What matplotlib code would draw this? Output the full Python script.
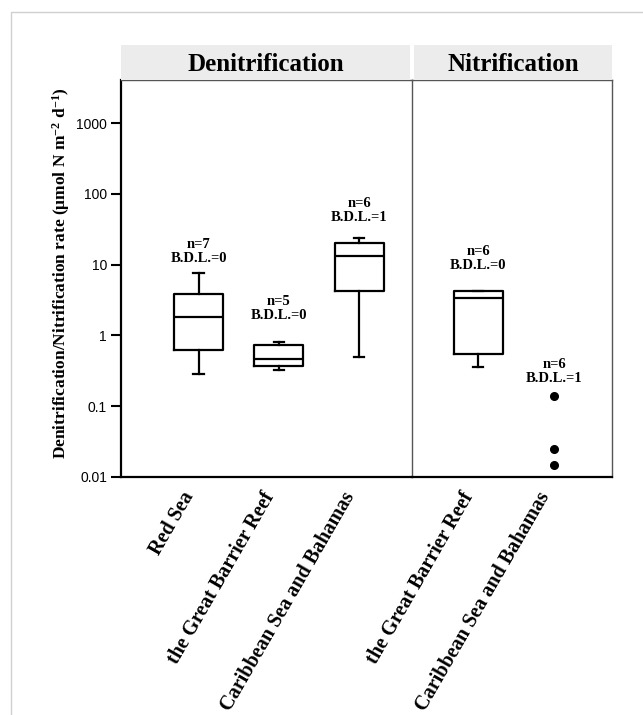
import matplotlib
matplotlib.use("Agg")
import matplotlib.pyplot as plt
from matplotlib.lines import Line2D

plt.rcParams['font.family'] = ['Liberation Serif', 'DejaVu Serif']
plt.rcParams['mathtext.fontset'] = 'custom'
plt.rcParams['mathtext.rm'] = 'Liberation Serif:bold'
plt.rcParams['mathtext.it'] = 'Liberation Serif:bold'
plt.rcParams['mathtext.bf'] = 'Liberation Serif:bold'

# denitrification boxes (umol N m-2 d-1)
denit_sites = ["Red Sea", "the Great Barrier Reef", "Caribbean Sea and Bahamas"]
denit_lo = [0.285, 0.325, 0.495]
denit_q1 = [0.62, 0.37, 4.24]
denit_med = [1.82, 0.46, 13.2]
denit_q3 = [3.85, 0.73, 20.2]
denit_hi = [7.6, 0.81, 23.8]
denit_n = [7, 5, 6]
denit_bdl = [0, 0, 1]

# nitrification: one box, one set of single points
nit_sites = ["the Great Barrier Reef", "Caribbean Sea and Bahamas"]
nit_lo = [0.358]
nit_q1 = [0.545]
nit_med = [3.37]
nit_q3 = [4.24]
nit_hi = [4.24]
nit_points = [0.139, 0.0248, 0.0148]
nit_n = [6, 6]
nit_bdl = [0, 1]

yticks = [0.01, 0.1, 1, 10, 100, 1000]
yticklabels = ["0.01", "0.1", "1", "10", "100", "1000"]

# label gaps above the top of each group (points)
denit_gap = [6, 14, 10]
nit_gap = [14, 8]

fig = plt.figure(figsize=(6.43, 7.15), dpi=100)

W, H = 643, 715
def fx(px):
    return px / W
def fy(py):
    return 1 - py / H

ax1 = fig.add_axes([fx(121), fy(477), fx(412) - fx(121), fy(80) - fy(477)])
ax2 = fig.add_axes([fx(412), fy(477), fx(612) - fx(412), fy(80) - fy(477)], sharey=ax1)
ax2.patch.set_visible(False)

boxprops = dict(color='black', linewidth=1.6)
lineprops = dict(color='black', linewidth=1.6)


def stats(lo, q1, med, q3, hi):
    return [dict(whislo=a, q1=b, med=c, q3=d, whishi=e, fliers=[])
            for a, b, c, d, e in zip(lo, q1, med, q3, hi)]


pos1 = list(range(1, len(denit_sites) + 1))
ax1.bxp(stats(denit_lo, denit_q1, denit_med, denit_q3, denit_hi), positions=pos1,
        widths=0.61, capwidths=0.13, showfliers=False,
        boxprops=boxprops, whiskerprops=lineprops, capprops=lineprops,
        medianprops=lineprops)

pos2 = list(range(1, len(nit_sites) + 1))
ax2.bxp(stats(nit_lo, nit_q1, nit_med, nit_q3, nit_hi), positions=pos2[:1],
        widths=0.645, capwidths=0.13, showfliers=False,
        boxprops=boxprops, whiskerprops=lineprops, capprops=lineprops,
        medianprops=lineprops)
ax2.plot([pos2[1]] * len(nit_points), nit_points, 'o', color='black',
         markersize=5.5, linestyle='none')

ax1.set_yscale('log')
ax1.set_ylim(0.01, 4050)
ax1.set_xlim(0.033, 3.66)
ax2.set_xlim(0.132, 2.76)

lbl_font = dict(fontsize=10.5, fontweight='bold', ha='center', va='bottom',
                linespacing=1.1)
for i, p in enumerate(pos1):
    ax1.annotate(f"n={denit_n[i]}\nB.D.L.={denit_bdl[i]}", (p, denit_hi[i]),
                 xytext=(0, denit_gap[i]), textcoords='offset points', **lbl_font)
nit_tops = [nit_hi[0], max(nit_points)]
for i, p in enumerate(pos2):
    ax2.annotate(f"n={nit_n[i]}\nB.D.L.={nit_bdl[i]}", (p, nit_tops[i]),
                 xytext=(0, nit_gap[i]), textcoords='offset points', **lbl_font)

ax1.set_yticks(yticks)
ax1.set_yticklabels(yticklabels, fontfamily='Liberation Sans', fontsize=10)
ax1.yaxis.set_minor_locator(matplotlib.ticker.NullLocator())
ax1.tick_params(axis='y', length=7, width=1.5, pad=3)
ax2.tick_params(axis='y', left=False, labelleft=False)

for ax, pos, sites in [(ax1, pos1, denit_sites), (ax2, pos2, nit_sites)]:
    ax.set_xticks(pos)
    ax.set_xticklabels(sites, rotation=60, ha='right', va='top',
                       fontsize=14.5, fontweight='bold')
    ax.tick_params(axis='x', length=0, pad=8)
    ax.spines['bottom'].set_linewidth(1.6)
    ax.spines['top'].set_color('#555555')
    ax.spines['top'].set_linewidth(1.0)
    ax.spines['right'].set_color('#555555')
    ax.spines['right'].set_linewidth(1.0)

ax1.spines['left'].set_linewidth(1.6)
ax2.spines['left'].set_visible(False)
ax1.spines['right'].set_zorder(5)

fig.text(fx(61), fy(273), "Denitrification/Nitrification rate (\u03bcmol N m$^{-2}$ d$^{-1}$)",
         rotation=90, ha='center', va='center', fontsize=12.5, fontweight='bold')

# header strips
for left, right, title in [(121, 410, "Denitrification"), (414, 612, "Nitrification")]:
    hax = fig.add_axes([fx(left), fy(80), fx(right) - fx(left), fy(45) - fy(80)])
    hax.set_facecolor('#ececec')
    for s in hax.spines.values():
        s.set_visible(False)
    hax.set_xticks([])
    hax.set_yticks([])
    hax.text(0.5, 0.45, title, transform=hax.transAxes, ha='center', va='center',
             fontsize=18, fontweight='bold')

# light frame around the figure
fig.add_artist(Line2D([fx(11), fx(11), 1], [0, fy(12), fy(12)],
                      transform=fig.transFigure, color='#d0d0d0', linewidth=1))

fig.savefig("out.png", dpi=100)
